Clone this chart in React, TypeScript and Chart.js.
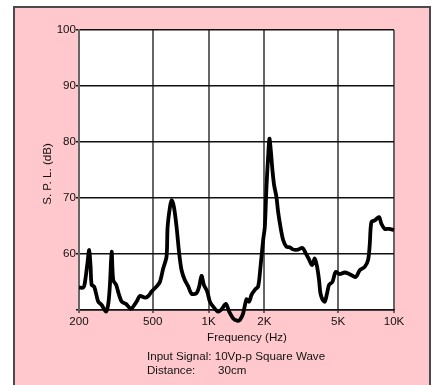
import React, { useEffect, useRef } from "react";
import { Chart, registerables } from "chart.js";

Chart.register(...registerables);

const FREQ_HZ = [200,211,215,222,227,231,234,241,247,254,265,280,288,294,300,306,317,329,340,358,380,392,409,426,454,473,493,524,546,569,593,601,619,632,650,672,694,715,745,777,809,861,890,916,943,983,1016,1059,1126,1174,1239,1291,1357,1426,1474,1536,1601,1655,1704,1776,1850,1905,1969,2010,2052,2094,2129,2165,2211,2256,2322,2372,2443,2524,2630,2742,2858,3039,3208,3344,3484,3616,3738,3848,3944,4010,4111,4232,4356,4466,4652,4850,5097,5423,5770,6217,6533,6950,7244,7396,7551,7870,8304,8546,8906,9398,10000];
const SPL_DB = [54.0,54.0,54.8,58.3,60.7,57.7,54.5,54.2,53.0,51.5,50.9,49.7,51.2,54.8,60.4,55.3,54.5,52.7,51.5,51.1,50.2,50.6,51.5,52.5,52.2,52.5,53.3,54.2,55.0,57.4,59.5,64.8,68.4,69.6,68.4,64.8,60.1,57.1,55.3,54.2,52.9,53.0,54.2,56.1,54.5,53.3,51.5,50.6,49.7,50.1,51.1,49.7,48.5,48.1,48.2,49.4,51.9,51.5,52.7,53.6,54.2,57.7,62.5,64.8,72.0,77.3,80.6,78.5,74.9,72.3,70.2,67.5,64.8,62.5,61.3,61.2,60.8,60.8,61.1,60.1,59.0,58.0,59.2,57.7,55.3,53.0,51.9,51.5,53.0,54.5,55.0,56.8,56.4,56.7,56.4,55.9,57.1,57.7,58.9,61.6,65.7,66.0,66.6,65.4,64.5,64.5,64.3];

const X_TICKS = [200, 500, 1000, 2000, 5000, 10000];
const X_TICK_LABELS = ["200", "500", "1K", "2K", "5K", "10K"];
const Y_TICKS = [50, 60, 70, 80, 90, 100];
const Y_TICK_LABELS = ["", "60", "70", "80", "90", "100"];

const Y_TITLE = "S. P. L. (dB)";
const X_TITLE = "Frequency (Hz)";
const NOTE_LINE1 = "Input Signal: 10Vp-p Square Wave";
const NOTE_LINE2_LABEL = "Distance:";
const NOTE_LINE2_VALUE = "30cm";

const FONT = "'Liberation Sans', Arial, sans-serif";

export default function App() {
  const ref = useRef<HTMLCanvasElement | null>(null);

  useEffect(() => {
    if (!ref.current) return;
    const textPlugin = {
      id: "texts",
      afterDraw(chart: any) {
        const ctx = chart.ctx;
        ctx.save();
        ctx.fillStyle = "#111";
        ctx.font = `11.6px ${FONT}`;
        ctx.textBaseline = "middle";
        ctx.textAlign = "center";
        ctx.save();
        ctx.translate(48, 174);
        ctx.rotate(-Math.PI / 2);
        ctx.fillText(Y_TITLE, 0, 0);
        ctx.restore();
        ctx.fillText(X_TITLE, 247, 338);
        ctx.textAlign = "left";
        ctx.fillText(NOTE_LINE1, 147, 357);
        ctx.fillText(NOTE_LINE2_LABEL, 147, 371);
        ctx.fillText(NOTE_LINE2_VALUE, 218, 371);
        ctx.restore();
      },
    };

    const chart = new Chart(ref.current, {
      type: "line",
      data: {
        datasets: [
          {
            data: FREQ_HZ.map((f, i) => ({ x: f, y: SPL_DB[i] })),
            borderColor: "#000",
            borderWidth: 3.8,
            pointRadius: 0,
            tension: 0.3,
            fill: false,
            clip: false as any,
          },
        ],
      },
      options: {
        animation: false,
        responsive: false,
        maintainAspectRatio: false,
        layout: { padding: { left: 0, right: 38, top: 30, bottom: 0 } },
        plugins: {
          legend: { display: false },
          tooltip: { enabled: false },
          title: { display: false },
        },
        scales: {
          x: {
            type: "logarithmic",
            min: 200,
            max: 10000,
            afterBuildTicks: (s: any) => {
              s.ticks = X_TICKS.map((v) => ({ value: v }));
            },
            afterFit: (s: any) => {
              s.height = 75;
            },
            ticks: {
              autoSkip: false,
              maxRotation: 0,
              padding: 2,
              color: "#111",
              font: { family: FONT, size: 11.6 },
              callback: (_v: any, i: number) => X_TICK_LABELS[i],
            },
            grid: {
              color: "#666",
              lineWidth: 2,
              tickLength: 3,
              drawTicks: true,
            },
            border: { color: "#111", width: 1.5 },
          },
          y: {
            type: "linear",
            min: 50,
            max: 100,
            afterBuildTicks: (s: any) => {
              s.ticks = Y_TICKS.map((v) => ({ value: v }));
            },
            afterFit: (s: any) => {
              s.width = 79;
            },
            ticks: {
              padding: 0,
              color: "#111",
              font: { family: FONT, size: 11.6 },
              callback: (_v: any, i: number) => Y_TICK_LABELS[i],
            },
            grid: {
              color: "#111",
              lineWidth: 1.5,
              tickLength: 3,
            },
            border: { color: "#666", width: 2 },
          },
        },
      },
      plugins: [textPlugin],
    });
    return () => chart.destroy();
  }, []);

  return (
    <div style={{ position: "fixed", left: 0, top: 0, width: 432, height: 385, overflow: "hidden", background: "#fff" }}>
      <div
        style={{
          position: "absolute",
          left: 13,
          top: 6,
          width: 414,
          height: 400,
          background: "#FFC8CC",
          border: "2px solid #4a4a4a",
        }}
      />
      <div style={{ position: "absolute", left: 79, top: 30, width: 315, height: 280, background: "#fff" }} />
      <canvas ref={ref} width={432} height={385} style={{ position: "absolute", left: 0, top: 0, width: 432, height: 385 }} />
    </div>
  );
}
